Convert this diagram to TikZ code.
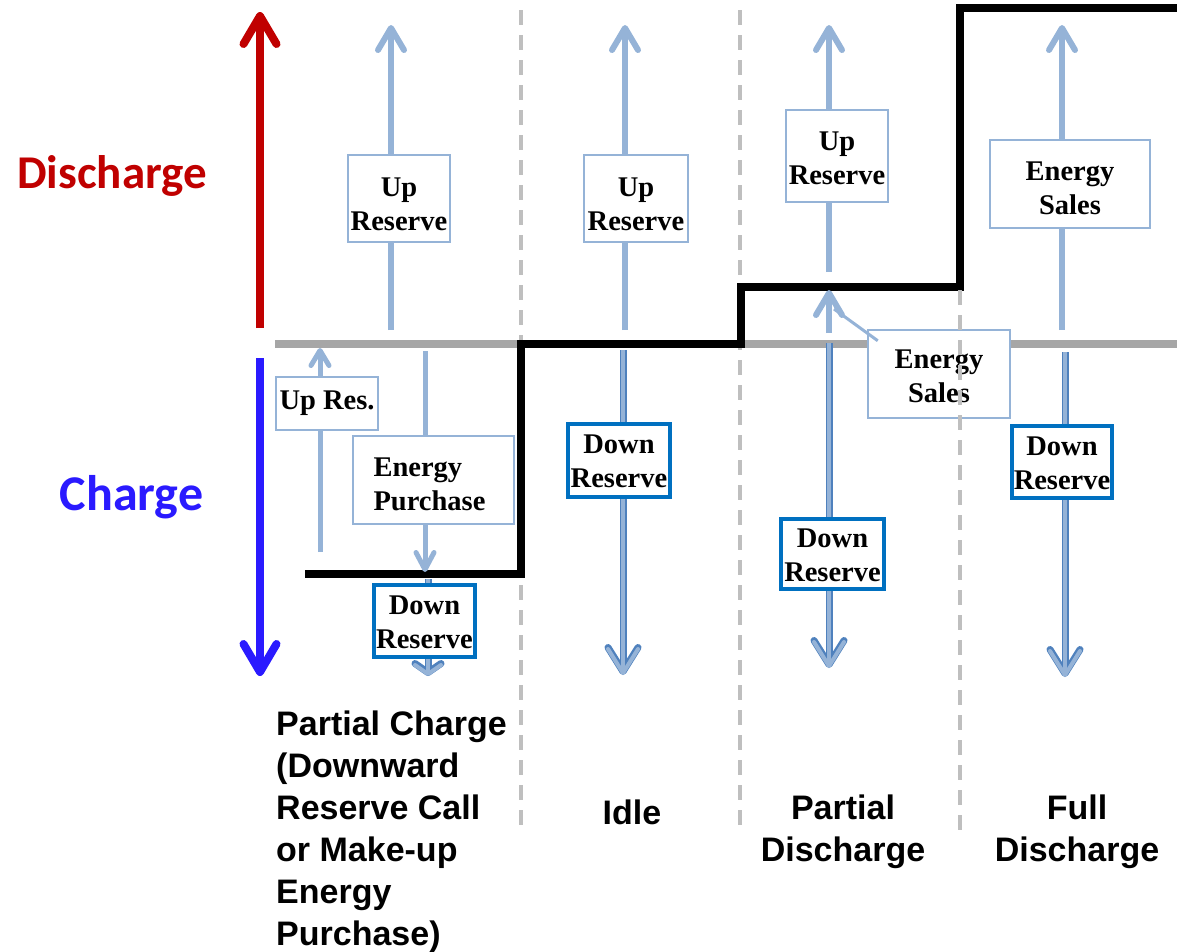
\documentclass[tikz,border=0pt]{standalone}
\usepackage{fontspec}
\setmainfont{Liberation Serif}
\newfontfamily\lsans{Liberation Sans}
\newfontfamily\carl{Carlito}
\usetikzlibrary{arrows.meta}
\definecolor{dred}{HTML}{C00000}
\definecolor{dblue}{HTML}{2A1AFF}
\definecolor{lblue}{HTML}{95B3D7}
\definecolor{mblue}{HTML}{0070C0}
\definecolor{eblue}{HTML}{4F81BD}
\definecolor{lgray}{HTML}{A6A6A6}
\definecolor{dgray}{HTML}{BFBFBF}
\newcommand\topgap[1]{\rule{0pt}{#1pt}}
\begin{document}
\begin{tikzpicture}[x=1pt,y=-1pt,
  boxtext/.style={align=center, font=\bfseries\fontsize{28.5}{34}\selectfont, inner sep=0pt},
  lbox/.style={boxtext, draw=lblue, line width=2.5pt, fill=white},
  dbox/.style={boxtext, draw=mblue, line width=3.5pt, fill=white},
  uparr/.style={lblue, line width=6pt, -{Straight Barb[length=22pt,width=26pt,round]}},
  smallup/.style={lblue, line width=5pt, -{Straight Barb[length=15pt,width=18pt,round]}},
  downarr/.style={draw=lblue, line width=4pt, -{Straight Barb[length=24pt,width=30pt,round]},
    preaction={draw=eblue, line width=7pt}},
  shortdown/.style={draw=lblue, line width=4pt, -{Straight Barb[length=9pt,width=26pt,round]},
    preaction={draw=eblue, line width=7pt}},
  divider/.style={dgray, line width=4pt, dash pattern=on 15pt off 10pt},
  label/.style={font=\lsans\bfseries\fontsize{34}{42}\selectfont, inner sep=0pt},
  axislabel/.style={inner sep=0pt}]
\useasboundingbox (0,0) rectangle (1177,951);

% zero line
\coordinate (z0) at (275,344);
\coordinate (z1) at (1177,344);
\draw[lgray, line width=8pt] (z0) -- (z1);

% dividers
\coordinate (d1a) at (521,10);  \coordinate (d1b) at (521,830);
\coordinate (d2a) at (740,10);  \coordinate (d2b) at (740,830);
\draw[divider] (d1a) -- (d1b);
\draw[divider] (d2a) -- (d2b);

% state of charge step
\coordinate (s0) at (305,574);
\coordinate (s1) at (521,574);
\coordinate (s2) at (521,344);
\coordinate (s3) at (741,344);
\coordinate (s4) at (741,287);
\coordinate (s5) at (960,287);
\coordinate (s6) at (960,8);
\coordinate (s7) at (1177,8);
\draw[black, line width=8pt] (s0) -- (s1) -- (s2) -- (s3) -- (s4) -- (s5) -- (s6) -- (s7);

% axis arrows
\coordinate (ra) at (260,328); \coordinate (rb) at (260,12);
\draw[dred, line width=8pt, -{Straight Barb[length=28pt,width=33pt,round]}] (ra) -- (rb);
\coordinate (ba) at (260,358); \coordinate (bb) at (260,676);
\draw[dblue, line width=8pt, -{Straight Barb[length=28pt,width=33pt,round]}] (ba) -- (bb);
\node[axislabel, text=dred, font={\carl\bfseries\fontsize{47}{50}\selectfont}] (dis) at (112,176) {Discharge};
\node[axislabel, text=dblue, font={\carl\bfseries\fontsize{50}{54}\selectfont}] (chg) at (131.5,497) {Charge};

% column 1
\coordinate (c1ua) at (391,330); \coordinate (c1ub) at (391,25);
\draw[uparr] (c1ua) -- (c1ub);
\node[lbox, minimum width=102pt, minimum height=87pt] (u1) at (399,198.5) {\topgap{30}Up\\Reserve};
\coordinate (c1ra) at (320,552); \coordinate (c1rb) at (320,348);
\draw[smallup] (c1ra) -- (c1rb);
\node[lbox, minimum width=102pt, minimum height=53pt] (ur) at (327,403.5) {Up Res.};
\coordinate (c1ea) at (425,351); \coordinate (c1eb) at (425,572);
\draw[lblue, line width=5pt, -{Straight Barb[length=17pt,width=18pt,round]}] (c1ea) -- (c1eb);
\node[lbox, minimum width=161pt, minimum height=88pt, align=left] (ep) at (433.5,480) {\topgap{27.5}Energy\\Purchase\hspace*{8pt}};
\coordinate (c1da) at (428,579); \coordinate (c1db) at (428,676);
\draw[shortdown] (c1da) -- (c1db);
\node[dbox, minimum width=101pt, minimum height=72pt] (d1) at (424.5,621) {\topgap{21}Down\\Reserve};

% column 2
\coordinate (c2ua) at (625,330); \coordinate (c2ub) at (625,25);
\draw[uparr] (c2ua) -- (c2ub);
\node[lbox, minimum width=104pt, minimum height=87pt] (u2) at (636,198.5) {\topgap{30}Up\\Reserve};
\coordinate (c2da) at (623,350); \coordinate (c2db) at (623,675);
\draw[downarr] (c2da) -- (c2db);
\node[dbox, minimum width=102pt, minimum height=73pt] (d2) at (619,460.5) {\topgap{21}Down\\Reserve};

% column 3
\coordinate (c3ua) at (829,272); \coordinate (c3ub) at (829,25);
\draw[uparr] (c3ua) -- (c3ub);
\node[lbox, minimum width=102pt, minimum height=92pt] (u3) at (837,156) {\topgap{22.5}Up\\Reserve};
\coordinate (c3sa) at (829,333); \coordinate (c3sb) at (829,290);
\draw[uparr] (c3sa) -- (c3sb);
\coordinate (c3da) at (829,343); \coordinate (c3db) at (829,668);
\draw[downarr] (c3da) -- (c3db);
\node[dbox, minimum width=103pt, minimum height=70pt] (d3) at (832.5,554) {\topgap{21}Down\\Reserve};
\coordinate (pt) at (834,309);
\node[lbox, minimum width=142pt, minimum height=88pt] (es3) at (939,374) {\topgap{23}Energy\\Sales};
\draw[lblue, line width=3pt] (es3.north west) ++(11,12) coordinate (pf) (pf) -- (pt);

% divider 3 on top
\coordinate (d3a) at (960,290); \coordinate (d3b) at (960,830);
\draw[divider] (d3a) -- (d3b);

% column 4
\coordinate (c4ua) at (1062,330); \coordinate (c4ub) at (1062,25);
\draw[uparr] (c4ua) -- (c4ub);
\node[lbox, minimum width=160pt, minimum height=88pt] (u4) at (1070,184) {\topgap{27}Energy\\Sales};
\coordinate (c4da) at (1065,352); \coordinate (c4db) at (1065,677);
\draw[downarr] (c4da) -- (c4db);
\node[dbox, minimum width=100pt, minimum height=72pt] (d4) at (1062,462) {\topgap{21}Down\\Reserve};

% bottom labels
\node[label, align=left, anchor=north west] (l1) at (276,711)
  {Partial Charge\\(Downward\\Reserve Call\\or Make-up\\Energy\\Purchase)};
\node[label] (l2) at (632,812) {Idle};
\node[label, align=center] (l3) at (843,832) {Partial\\Discharge};
\node[label, align=center] (l4) at (1077,832) {Full\\Discharge};
\end{tikzpicture}
\end{document}
